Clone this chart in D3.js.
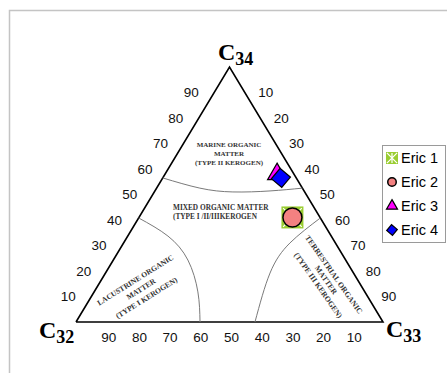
<!DOCTYPE html>
<html>
<head>
<meta charset="utf-8">
<script src="https://cdn.jsdelivr.net/npm/d3@7/dist/d3.min.js"></script>
<style>
  html, body { margin: 0; padding: 0; background: #fff; }
  svg { display: block; }
</style>
</head>
<body>
<svg id="chart" width="447" height="373"></svg>
<script>
// Ternary composition of C32 / C33 / C34 steranes (percent)
const samples = ["Eric 1", "Eric 2", "Eric 3", "Eric 4"];
const c32 = [9, 9, 5.5, 5];
const c33 = [50, 50, 36.5, 38.5];
const c34 = [41, 41, 58, 56.5];

const tickValues = [10, 20, 30, 40, 50, 60, 70, 80, 90];
const tickLabels = ["10", "20", "30", "40", "50", "60", "70", "80", "90"];

// Field boundaries as [C32, C33, C34]
const marineBoundary = [[43.5, 0, 56.5], [33.4, 14.1, 52.5], [23.4, 25.6, 51], [11.1, 37.5, 51.4], [0, 47.5, 52.5]];
const lacustrineBoundary = [[59.2, 0, 40.8], [53.2, 13.1, 33.7], [51.4, 24.3, 24.3], [54.4, 33.8, 11.8], [59.6, 40.4, 0]];
const terrestrialBoundary = [[0, 59.2, 40.8], [14.8, 54.2, 31], [27.2, 53.6, 19.2], [41.7, 58.3, 0]];

const svg = d3.select("#chart");

// Frame around the chart area
svg.append("rect")
  .attr("x", 9.5).attr("y", 10.5).attr("width", 460).attr("height", 420)
  .attr("fill", "none").attr("stroke", "#c4c4c4").attr("stroke-width", 1.5);

// Horizontal position follows C33 + C34/2, vertical follows C34
const xS = d3.scaleLinear().domain([0, 100]).range([76, 383]);
const yS = d3.scaleLinear().domain([0, 100]).range([322, 67]);
const px = (a, b, c) => xS(b + c / 2);
const py = (a, b, c) => yS(c);

const line = d3.line().x(d => px(...d)).y(d => py(...d));

// Outer triangle: C32 (left), C33 (right), C34 (top)
const corners = [[100, 0, 0], [0, 100, 0], [0, 0, 100], [100, 0, 0]];
svg.append("path")
  .attr("d", line(corners))
  .attr("fill", "none").attr("stroke", "#000").attr("stroke-width", 1.6)
  .attr("stroke-linejoin", "miter");

// Field boundaries
const curve = d3.line().x(d => px(...d)).y(d => py(...d)).curve(d3.curveNatural);
[marineBoundary, lacustrineBoundary, terrestrialBoundary].forEach(b => {
  svg.append("path").attr("d", curve(b))
    .attr("fill", "none").attr("stroke", "#7a7a7a").attr("stroke-width", 1);
});

// Tick labels
const tickFont = "Liberation Sans, Arial, sans-serif";
const tg = svg.append("g").attr("font-family", tickFont).attr("font-size", 13.5)
  .attr("fill", "#111").attr("text-anchor", "middle").attr("dominant-baseline", "central");
tickValues.forEach((v, i) => {
  // left edge: C34 share
  tg.append("text").attr("x", px(100 - v, 0, v) - 23).attr("y", py(100 - v, 0, v)).text(tickLabels[i]);
  // right edge: C33 share
  tg.append("text").attr("x", px(0, v, 100 - v) + 21).attr("y", py(0, v, 100 - v)).text(tickLabels[i]);
  // bottom edge: C32 share
  tg.append("text").attr("x", px(v, 100 - v, 0) + 2).attr("y", py(v, 100 - v, 0) + 15).text(tickLabels[i]);
});

// Vertex labels
function vertexLabel(x, y, sub) {
  const t = svg.append("text").attr("x", x).attr("y", y)
    .attr("font-family", "Liberation Serif, Times New Roman, serif")
    .attr("font-weight", "bold").attr("fill", "#000");
  t.append("tspan").attr("font-size", 24).text("C");
  t.append("tspan").attr("font-size", 18).attr("dy", 5).text(sub);
}
vertexLabel(218, 60, "34");
vertexLabel(39, 338, "32");
vertexLabel(386, 337, "33");

// Field names
const fieldFont = "Liberation Serif, Times New Roman, serif";
function fieldText(lines, x, y, angle, spacing, size, anchor) {
  const g = svg.append("g").attr("transform", `translate(${x},${y}) rotate(${angle})`)
    .attr("font-family", fieldFont).attr("font-weight", "bold").attr("font-size", size)
    .attr("fill", "#333").attr("text-anchor", anchor);
  lines.forEach((s, i) => {
    g.append("text").attr("x", 0).attr("y", (i - (lines.length - 1) / 2) * spacing)
      .attr("dominant-baseline", "central").text(s);
  });
}
fieldText(["MARINE ORGANIC", "MATTER", "(TYPE II KEROGEN)"], 229, 154, 0, 9, 7, "middle");
svg.append("g").attr("font-family", fieldFont).attr("font-weight", "bold").attr("font-size", 7.3)
  .attr("fill", "#333")
  .call(g => {
    g.append("text").attr("x", 173).attr("y", 210).text("MIXED ORGANIC MATTER");
    g.append("text").attr("x", 173).attr("y", 219).text("(TYPE I /II/IIIKEROGEN");
  });
fieldText(["LACUSTRINE ORGANIC", "MATTER", "(TYPE I KEROGEN)"], 141, 289, -32, 10.5, 7.6, "middle");
fieldText(["TERRESTRIAL ORGANIC", "MATTER", "(TYPE III KEROGEN)"], 326, 280, 55, 9.5, 7.7, "middle");

// Marker drawing
const green = "#9ACD32";
function drawMarker(g, kind, x, y, s) {
  if (kind === 0) {
    const h = s / 2;
    g.append("rect").attr("x", x - h).attr("y", y - h).attr("width", s).attr("height", s)
      .attr("fill", green);
    const p = d3.path();
    const k = h * 0.85;
    p.moveTo(x - k, y - k); p.lineTo(x + k, y + k);
    p.moveTo(x + k, y - k); p.lineTo(x - k, y + k);
    p.moveTo(x, y - k); p.lineTo(x, y + k);
    g.append("path").attr("d", p.toString()).attr("stroke", "#fff").attr("stroke-width", 1.2);
  } else if (kind === 1) {
    g.append("circle").attr("cx", x).attr("cy", y).attr("r", s / 2)
      .attr("fill", "#F38181").attr("stroke", "#000").attr("stroke-width", 1.5);
  } else if (kind === 2) {
    const area = Math.sqrt(3) / 4 * s * s;
    g.append("path").attr("d", d3.symbol(d3.symbolTriangle, area)())
      .attr("transform", `translate(${x},${y})`)
      .attr("fill", "#FF00FF").attr("stroke", "#000").attr("stroke-width", 1.2);
  } else {
    g.append("path").attr("d", d3.symbol(d3.symbolSquare, s * s)())
      .attr("transform", `translate(${x},${y}) rotate(40)`)
      .attr("fill", "#0000FF").attr("stroke", "#000").attr("stroke-width", 1.2);
  }
}

// Data points
const markerSize = [22, 19, 19, 13.5];
const mg = svg.append("g");
samples.forEach((name, i) => {
  drawMarker(mg, i, px(c32[i], c33[i], c34[i]), py(c32[i], c33[i], c34[i]), markerSize[i]);
});

// Legend
const lg = svg.append("g");
lg.append("rect").attr("x", 382.5).attr("y", 145.5).attr("width", 63).attr("height", 97)
  .attr("fill", "#fff").attr("stroke", "#9a9a9a").attr("stroke-width", 1);
const legendSize = [12, 8.5, 11, 7.5];
samples.forEach((name, i) => {
  const y = 158 + i * 24;
  drawMarker(lg, i, 392, y, legendSize[i]);
  lg.append("text").attr("x", 401).attr("y", y).attr("dominant-baseline", "central")
    .attr("font-family", tickFont).attr("font-size", 14.5).attr("fill", "#000").text(name);
});
</script>
</body>
</html>
